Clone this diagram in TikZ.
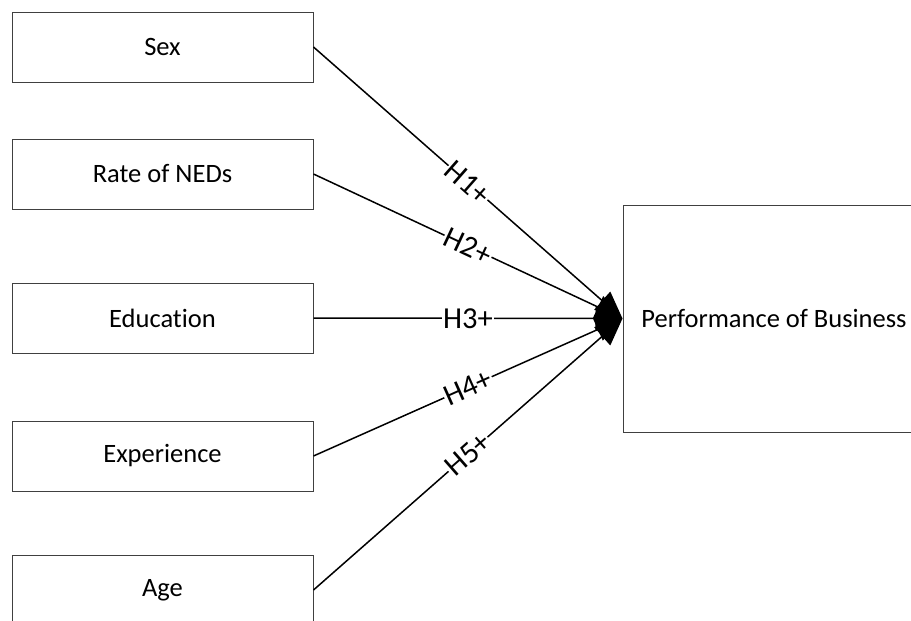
\documentclass[tikz,border=0pt]{standalone}
\usepackage{fontspec}
\setmainfont[Ligatures=NoCommon]{Carlito}
\usetikzlibrary{arrows.meta}
\begin{document}
\begin{tikzpicture}[x=1pt,y=-1pt,
  factor/.style={draw=black!75,line width=1pt,minimum width=301pt,minimum height=70pt,inner sep=0pt,
    font=\fontsize{26.5}{31}\selectfont},
  outcome/.style={draw=black!75,line width=1pt,minimum width=302pt,minimum height=227pt,inner sep=0pt,
    font=\fontsize{26.5}{31}\selectfont},
  link/.style={line width=1.5pt,-{Triangle[length=27pt,width=24pt]}},
  hyp/.style={midway,sloped,fill=white,inner sep=1pt,font=\fontsize{30.5}{34}\selectfont}]
\useasboundingbox (0,0) rectangle (911,621);
\node[factor] (sex) at (162.5,47) {Sex};
\node[factor] (ned) at (162.5,174) {Rate of NEDs};
\node[factor] (edu) at (162.5,318) {Education};
\node[factor] (exp) at (162.5,456) {Experience};
\node[factor] (age) at (162.5,590) {Age};
\node[outcome] (perf) at (774,318.5) {Performance of Business};
\draw[link] (sex.east) -- node[hyp] {H1+} (perf.west);
\draw[link] (ned.east) -- node[hyp] {H2+} (perf.west);
\draw[link] (edu.east) -- node[hyp] {H3+} (perf.west);
\draw[link] (exp.east) -- node[hyp] {H4+} (perf.west);
\draw[link] (age.east) -- node[hyp] {H5+} (perf.west);
\end{tikzpicture}
\end{document}
